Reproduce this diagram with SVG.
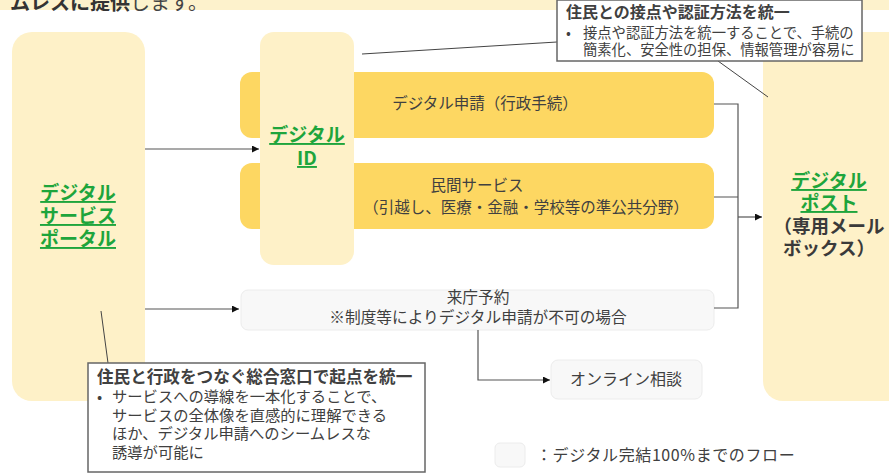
<svg xmlns="http://www.w3.org/2000/svg" width="889" height="473" viewBox="0 0 889 473">
<defs>
<style>
text{font-family:"Noto Sans CJK JP","Noto Sans",sans-serif;fill:#404040}
.g{fill:#1EA53C;font-weight:bold;text-decoration:underline;font-size:19px}
.lt{fill:#FEF1C8}
.dk{fill:#FDD762}
.wb{fill:#F8F8F8;stroke:#ECECEC;stroke-width:1}
.cl{fill:#fff;stroke:#666;stroke-width:1.5}
.ln{stroke:#555;stroke-width:1.2;fill:none}
.ld{stroke:#444;stroke-width:1;fill:none}
.b{font-weight:bold}
</style>
<marker id="ar" viewBox="0 0 10 10" refX="10" refY="5" markerWidth="7" markerHeight="7" markerUnits="userSpaceOnUse" orient="auto"><path d="M0,0L10,5L0,10z" fill="#111"/></marker>
</defs>
<rect x="0" y="0" width="889" height="10" fill="#FDF2CC"/>
<text x="10" y="10" font-size="20"><tspan class="b" fill="#333">ムレスに提供</tspan><tspan fill="#444">します。</tspan></text>

<g id="portal"><rect class="lt" x="12" y="32" width="133" height="369" rx="20"/>
<text text-anchor="middle" class="g"><tspan x="78" y="200">デジタル</tspan><tspan x="78" y="223">サービス</tspan><tspan x="78" y="246">ポータル</tspan></text></g>

<g id="shinsei"><rect class="dk" x="240" y="72" width="474" height="66" rx="12"/>
<text x="485" y="109" font-size="15.5" text-anchor="middle">デジタル申請（行政手続）</text></g>
<g id="minkan"><rect class="dk" x="240" y="163" width="474" height="66" rx="12"/>
<text font-size="15.5" text-anchor="middle"><tspan x="477" y="191">民間サービス</tspan><tspan x="526" y="213">（引越し、医療・金融・学校等の準公共分野）</tspan></text></g>

<g id="id"><rect class="lt" x="260" y="32" width="94" height="233" rx="14"/>
<text text-anchor="middle" class="g"><tspan x="307" y="142">デジタル</tspan><tspan x="307" y="165">ID</tspan></text></g>

<g id="post"><rect class="lt" x="763" y="32" width="146" height="369" rx="20"/>
<text text-anchor="middle" font-size="18.5"><tspan class="g" x="829" y="188" font-size="18.5">デジタル</tspan><tspan class="g" x="829" y="210" font-size="18.5">ポスト</tspan><tspan class="b" x="829" y="233" fill="#3a3a3a">（専用メール</tspan><tspan class="b" x="829" y="255" fill="#3a3a3a">ボックス）</tspan></text></g>

<g id="raicho"><rect class="wb" x="241" y="290" width="473" height="40" rx="7"/>
<text font-size="15.7" text-anchor="middle"><tspan x="478" y="303">来庁予約</tspan><tspan x="478" y="323">※制度等によりデジタル申請が不可の場合</tspan></text></g>

<g id="online"><rect class="wb" x="551" y="360" width="151" height="39" rx="7"/>
<text x="626" y="385" font-size="16" text-anchor="middle">オンライン相談</text></g>

<g id="connectors">
<path class="ln" d="M145,149H259" marker-end="url(#ar)"/>
<path class="ln" d="M145,309H239" marker-end="url(#ar)"/>
<path class="ln" d="M714,104H738V308H714M714,197H738"/>
<path class="ln" d="M738,217H762" marker-end="url(#ar)"/>
<path class="ln" d="M478,330V380H550" marker-end="url(#ar)"/>
<path class="ld" d="M362,54L557,42"/>
<path class="ld" d="M718,61L768,97"/>
<path class="ld" d="M101,311L108,363"/>
</g>

<g id="callout-top"><rect class="cl" x="557" y="0" width="305" height="61"/>
<text x="566" y="18" font-size="16" class="b" fill="#333">住民との接点や認証方法を統一</text>
<text font-size="14.3"><tspan x="566" y="38">•</tspan><tspan x="583" y="38">接点や認証方法を統一することで、手続の</tspan><tspan x="583" y="55">簡素化、安全性の担保、情報管理が容易に</tspan></text></g>

<g id="callout-bottom"><rect class="cl" x="88" y="363" width="337" height="109"/>
<text x="97" y="383" font-size="16.6" class="b" fill="#333">住民と行政をつなぐ総合窓口で起点を統一</text>
<text font-size="15.3"><tspan x="97" y="402">•</tspan><tspan x="112" y="402">サービスへの導線を一本化することで、</tspan><tspan x="112" y="421">サービスの全体像を直感的に理解できる</tspan><tspan x="112" y="439">ほか、デジタル申請へのシームレスな</tspan><tspan x="112" y="458">誘導が可能に</tspan></text></g>

<g id="legend"><rect class="wb" x="495" y="443" width="30" height="24" rx="5"/>
<text x="536" y="461" font-size="16" letter-spacing="0.6">：デジタル完結100%までのフロー</text></g>
</svg>
